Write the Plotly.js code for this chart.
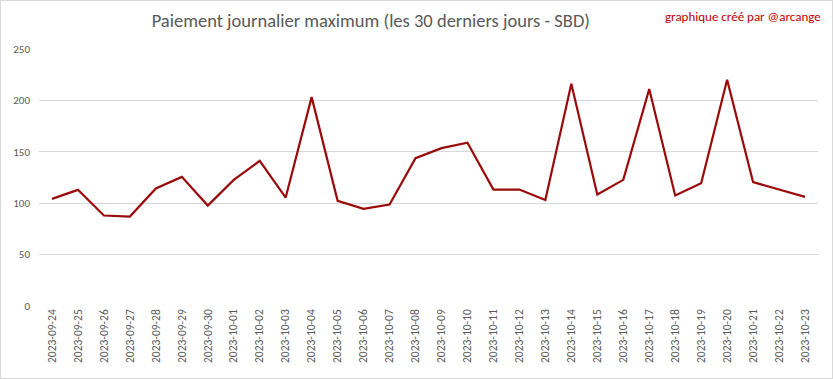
<!DOCTYPE html>
<html>
<head>
<meta charset="utf-8">
<script src="https://cdn.plot.ly/plotly-3.0.1.min.js"></script>
<style>
html,body{margin:0;padding:0;background:#fff;}
#wrap{width:833px;height:379px;box-sizing:border-box;border:1px solid #d9d9d9;}
#chart{width:831px;height:377px;}
</style>
</head>
<body>
<div id="wrap"><div id="chart"></div></div>
<script>
const dates = ["2023-09-24","2023-09-25","2023-09-26","2023-09-27","2023-09-28","2023-09-29","2023-09-30",
  "2023-10-01","2023-10-02","2023-10-03","2023-10-04","2023-10-05","2023-10-06","2023-10-07","2023-10-08",
  "2023-10-09","2023-10-10","2023-10-11","2023-10-12","2023-10-13","2023-10-14","2023-10-15","2023-10-16",
  "2023-10-17","2023-10-18","2023-10-19","2023-10-20","2023-10-21","2023-10-22","2023-10-23"];
const maxPayout = [104.2,113,88,87,114.3,125.6,97.7,122.7,141.2,105.5,203.2,102.3,94.5,98.7,143.8,
  153.6,158.8,113.3,113.3,103.2,216.2,108.4,122.7,211,107.5,119.5,220,120.5,113.3,106.2];
const yTicks = [0,50,100,150,200,250];
const titleText = "Paiement journalier maximum (les 30 derniers jours - SBD)";
const creditText = "graphique créé par @arcange";

const font = "Calibri, Carlito, 'Open Sans', 'Noto Sans', sans-serif";
Plotly.newPlot("chart", [{
  x: dates, y: maxPayout, type: "scatter", mode: "lines",
  line: {color: "#9b0a0a", width: 2.2}, hoverinfo: "x+y"
}], {
  width: 831, height: 377,
  margin: {l: 38, r: 14, t: 48, b: 72},
  paper_bgcolor: "#fff", plot_bgcolor: "#fff",
  showlegend: false,
  title: {text: titleText, x: 0.445, xanchor: "center", y: 0.948, yanchor: "middle",
    font: {family: font, size: 18.5, color: "#595959"}},
  xaxis: {type: "category", range: [-0.5, 29.5], tickangle: -90, showgrid: false,
    zeroline: false, showline: false, ticks: "",
    tickfont: {family: font, size: 11.5, color: "#595959"}},
  yaxis: {range: [0, 250], tickvals: yTicks, showgrid: true, gridcolor: "#d9d9d9", gridwidth: 1,
    zeroline: false, showline: false, ticks: "", ticklabelstandoff: 8,
    tickfont: {family: font, size: 11, color: "#595959"}},
  annotations: [{text: creditText, xref: "paper", yref: "paper", x: 1.006, y: 1.125,
    xanchor: "right", yanchor: "middle", showarrow: false,
    font: {family: font, size: 13, color: "#c00000"}}]
}, {displayModeBar: false, staticPlot: true});
</script>
</body>
</html>
